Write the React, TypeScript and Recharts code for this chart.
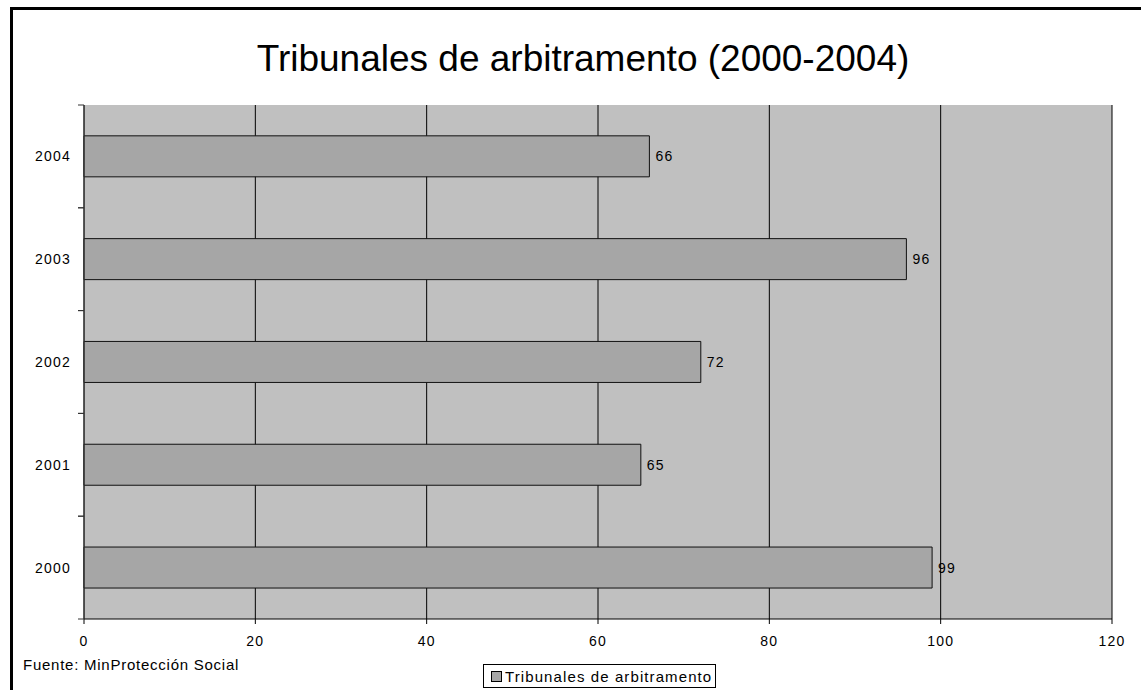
import React from "react";
import {
  BarChart,
  Bar,
  XAxis,
  YAxis,
  CartesianGrid,
  LabelList,
} from "recharts";

const years = ["2000", "2001", "2002", "2003", "2004"];
const tribunales = [99, 65, 72, 96, 66];
const xTicks = [0, 20, 40, 60, 80, 100, 120];

const seriesName = "Tribunales de arbitramento";
const title = "Tribunales de arbitramento (2000-2004)";
const source = "Fuente: MinProtección Social";

const FONT = '"Liberation Sans", Arial, sans-serif';
const W = 1141;
const H = 690;
const PLOT_LEFT = 84;
const PLOT_TOP = 105;
const PLOT_RIGHT = 1112;
const PLOT_BOTTOM = 619;
const X_AXIS_H = 30;
const Y_AXIS_W = 60;

const data = years.map((year, i) => ({ year, value: tribunales[i] }));

// year label centred in the band, tick marks on the band edges (Excel style)
function YearTick(props: any) {
  const { x, y, payload } = props;
  const half = payload.offset || 0;
  return (
    <g>
      <line x1={PLOT_LEFT - 6} x2={PLOT_LEFT} y1={y - half} y2={y - half} stroke="#333" />
      <line x1={PLOT_LEFT - 6} x2={PLOT_LEFT} y1={y + half} y2={y + half} stroke="#333" />
      <text
        x={x + 1}
        y={y}
        dy="0.35em"
        textAnchor="end"
        fontSize={14}
        letterSpacing={1.2}
        fill="#000"
        fontFamily={FONT}
      >
        {payload.value}
      </text>
    </g>
  );
}

export default function App() {
  return (
    <div
      style={{
        position: "absolute",
        left: 0,
        top: 0,
        width: W,
        height: H,
        overflow: "hidden",
        background: "#fff",
        fontFamily: FONT,
      }}
    >
      <div
        style={{
          position: "absolute",
          left: 10,
          top: 7,
          width: W + 20,
          height: H + 20,
          border: "3px solid #000",
          boxSizing: "border-box",
        }}
      />
      <div
        style={{
          position: "absolute",
          left: 0,
          top: 37,
          width: 1166,
          textAlign: "center",
          fontSize: 37,
          lineHeight: "44px",
          color: "#000",
        }}
      >
        {title}
      </div>

      <div style={{ position: "absolute", left: 0, top: 0 }}>
        <BarChart
          width={W}
          height={H}
          data={data}
          layout="vertical"
          barCategoryGap="30%"
          margin={{
            top: PLOT_TOP,
            right: W - PLOT_RIGHT,
            bottom: H - PLOT_BOTTOM - X_AXIS_H,
            left: PLOT_LEFT - Y_AXIS_W,
          }}
        >
          <CartesianGrid horizontal={false} stroke="#000" fill="#c0c0c0" fillOpacity={1} />
          <XAxis
            type="number"
            domain={[0, 120]}
            ticks={xTicks}
            interval={0}
            height={X_AXIS_H}
            axisLine={{ stroke: "#000" }}
            tickLine={{ stroke: "#000" }}
            tickSize={5}
            tickMargin={12}
            tick={{ fontSize: 14, fill: "#000", fontFamily: FONT, letterSpacing: 1.2 }}
          />
          <XAxis
            xAxisId="top"
            orientation="top"
            type="number"
            domain={[0, 120]}
            height={0}
            tick={false}
            tickLine={false}
            axisLine={{ stroke: "#808080" }}
          />
          <YAxis
            type="category"
            dataKey="year"
            reversed
            width={Y_AXIS_W}
            axisLine={{ stroke: "#333" }}
            tickLine={false}
            tickSize={6}
            tickMargin={8}
            tick={<YearTick />}
          />
          <YAxis
            yAxisId="right"
            orientation="right"
            type="category"
            dataKey="year"
            width={0}
            tick={false}
            tickLine={false}
            axisLine={{ stroke: "#808080" }}
          />
          <Bar
            dataKey="value"
            name={seriesName}
            fill="#a6a6a6"
            stroke="#111"
            strokeWidth={1}
            isAnimationActive={false}
          >
            <LabelList
              dataKey="value"
              position="right"
              offset={6}
              fill="#000"
              fontSize={14}
              fontFamily={FONT}
              letterSpacing={1.2}
            />
          </Bar>
        </BarChart>
      </div>

      <div
        style={{
          position: "absolute",
          left: 23,
          top: 656,
          fontSize: 15,
          letterSpacing: 0.75,
          color: "#000",
        }}
      >
        {source}
      </div>

      <div
        style={{
          position: "absolute",
          left: 483,
          top: 664,
          height: 24,
          boxSizing: "border-box",
          border: "1px solid #000",
          padding: "0 3px 0 7px",
          display: "flex",
          alignItems: "center",
          fontSize: 15,
          letterSpacing: 1.1,
          color: "#000",
          background: "#fff",
        }}
      >
        <span
          style={{
            display: "inline-block",
            width: 9,
            height: 9,
            background: "#a6a6a6",
            border: "1px solid #000",
            marginRight: 3,
          }}
        />
        {seriesName}
      </div>
    </div>
  );
}
